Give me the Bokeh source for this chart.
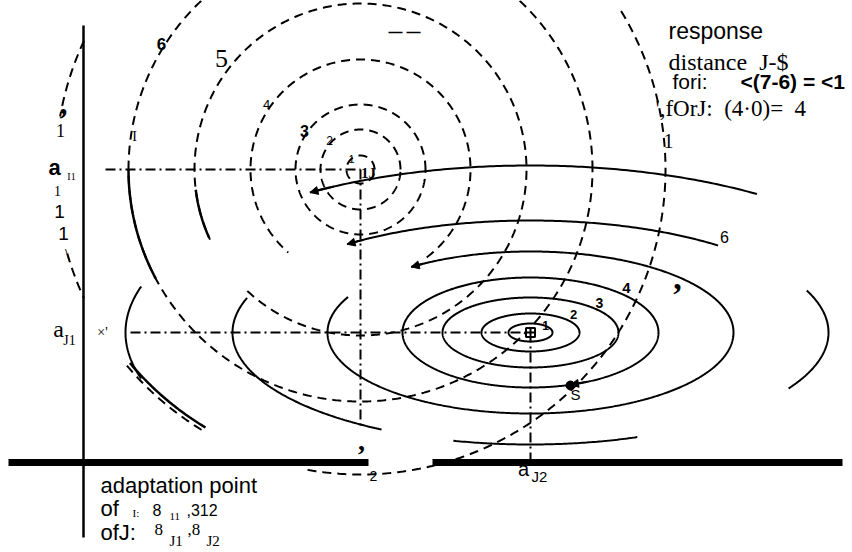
import numpy as np
from bokeh.plotting import figure
from bokeh.models import Range1d, Arrow, NormalHead
from bokeh.embed import file_html
from bokeh.resources import INLINE
from bokeh.core.properties import value

NB = "\u00a0"

# ---------------- data (response space, drawing units) ----------------
# adaptation points
aI2, aI1 = 360, 169          # stimulus I
aJ2, aJ1 = 530, 332          # stimulus J
S_point = (570, 385)         # stimulus S

# response-distance contours of I (dashed circles)
I_levels = [1, 2, 3, 4, 5, 6, 7]
I_radius = [14, 40, 65, 110, 166, 232, 305]
# visible parts of each contour (degrees)
I_arcs = [[(0, 360)], [(0, 360)], [(0, 360)], [(-53, 229)],
          [(227, 565)], [(0, 360)], [(-100, 32), (155, 170), (196, 205), (220, 239)]]
I_solid_parts = {6: [(180, 208)], 5: [(187, 204)]}

# response-distance contours of J (solid ellipses)
J_levels = [1, 2, 3, 4, 5, 6, 7]
J_rx = [22, 49, 88, 128, 203, 298, 405]
J_ry = [9, 19, 35, 55, 81, 112, 167]
J_arcs = [[(0, 360)], [(0, 360)], [(0, 360)], [(0, 360)], [(154, 486)],
          [(51, 128), (162, 240), (255, 291), (-30, 22)], [(56, 123), (164, 196)]]
J_arrow_at = {5: 126, 6: 128, 7: 123}

# axis extents
axis_x, axis_top, axis_bottom = 83, 25, 537
base_y, base_left, base_right = 462, 8, 842
base_gap = (368, 432)

# texts: (x, y, text, size, font, style, align)
texts = [
    (668, 30, "response", "23px", "Liberation Sans", "normal", "left"),
    (668, 61, "distance" + NB * 2 + "J-$", "24px", "Liberation Serif", "normal", "left"),
    (672, 81, "fori:", "21px", "Liberation Sans", "normal", "left"),
    (740, 81, "<(7-6) = <1", "21px", "Liberation Sans", "bold", "left"),
    (655, 108, "',fOrJ:" + NB * 2 + "(4\u00b70)=" + NB * 2 + "4", "23px", "Liberation Serif", "normal", "left"),
    (668, 140, "1", "20px", "Liberation Serif", "normal", "center"),
    (63, 103, ",", "32px", "Liberation Serif", "bold", "center"),
    (60, 130, "1", "18px", "Liberation Serif", "normal", "center"),
    (54, 167, "a", "22px", "Liberation Sans", "bold", "center"),
    (71, 176, "I1", "10px", "Liberation Serif", "normal", "center"),
    (57, 190, "1", "14px", "Liberation Serif", "normal", "center"),
    (59, 211, "1", "19px", "Liberation Sans", "normal", "center"),
    (63, 233, "1", "19px", "Liberation Sans", "normal", "center"),
    (67, 255, "\\", "18px", "Liberation Serif", "normal", "center"),
    (58, 328, "a", "24px", "Liberation Serif", "normal", "center"),
    (69, 340, "J1", "14px", "Liberation Serif", "normal", "center"),
    (102, 332, "\u00d7'", "14px", "Liberation Serif", "normal", "center"),
    (134, 136, "I", "14px", "Liberation Serif", "normal", "center"),
    (161, 43, "6", "17px", "Liberation Sans", "bold", "center"),
    (221, 58, "5", "26px", "Liberation Serif", "normal", "center"),
    (266, 104, "4", "13px", "Liberation Sans", "normal", "center"),
    (304, 130, "3", "16px", "Liberation Sans", "bold", "center"),
    (329, 140, "2", "12px", "Liberation Sans", "normal", "center"),
    (351, 158, "1", "11px", "Liberation Sans", "normal", "center"),
    (368, 172, "1J", "15px", "Liberation Serif", "bold", "center"),
    (404, 31, "\u2014 \u2014", "14px", "Liberation Sans", "bold", "center"),
    (724, 236, "6", "16px", "Liberation Sans", "normal", "center"),
    (677, 277, ",", "34px", "Liberation Serif", "bold", "center"),
    (626, 287, "4", "15px", "Liberation Sans", "bold", "center"),
    (599, 302, "3", "14px", "Liberation Sans", "bold", "center"),
    (573, 314, "2", "13px", "Liberation Sans", "bold", "center"),
    (545, 325, "1", "12px", "Liberation Sans", "bold", "center"),
    (575, 394, "S", "15px", "Liberation Sans", "normal", "center"),
    (361, 440, ",", "28px", "Liberation Serif", "bold", "center"),
    (373, 475, "2", "14px", "Liberation Sans", "normal", "center"),
    (523, 468, "a", "20px", "Liberation Sans", "normal", "center"),
    (539, 476, "J2", "15px", "Liberation Sans", "normal", "center"),
    (100, 485, "adaptation point", "22px", "Liberation Sans", "normal", "left"),
    (100, 508, "of", "22px", "Liberation Sans", "normal", "left"),
    (132, 512, "I:", "11px", "Liberation Serif", "normal", "left"),
    (152, 509, "8", "16px", "Liberation Sans", "normal", "left"),
    (169, 516, "11", "11px", "Liberation Serif", "normal", "left"),
    (186, 509, ",312", "16px", "Liberation Sans", "normal", "left"),
    (100, 532, "ofJ:", "22px", "Liberation Sans", "normal", "left"),
    (154, 529, "8", "17px", "Liberation Serif", "normal", "left"),
    (169, 540, "J1", "15px", "Liberation Serif", "normal", "left"),
    (187, 529, ",8", "17px", "Liberation Serif", "normal", "left"),
    (206, 540, "J2", "15px", "Liberation Serif", "normal", "left"),
]

# ---------------- figure ----------------
W, H = 850, 550
p = figure(width=W, height=H, output_backend="svg", toolbar_location=None,
           x_range=Range1d(0, W), y_range=Range1d(H, 0),
           x_axis_type=None, y_axis_type=None, min_border=0)
p.outline_line_color = None
p.background_fill_color = "white"


def ell(cx, cy, rx, ry, t0, t1):
    n = max(int(abs(t1 - t0) * 2), 20)
    t = np.radians(np.linspace(t0, t1, n))
    return list(cx + rx * np.cos(t)), list(cy - ry * np.sin(t))


# I contours (dashed)
xs, ys = [], []
for r, arcs in zip(I_radius, I_arcs):
    for a0, a1 in arcs:
        x, y = ell(aI2, aI1, r, r, a0, a1)
        xs.append(x); ys.append(y)
p.multi_line(xs, ys, line_color="black", line_width=2, line_dash="9 6")
xs, ys = [], []
for lev, arcs in I_solid_parts.items():
    r = I_radius[I_levels.index(lev)]
    for a0, a1 in arcs:
        x, y = ell(aI2, aI1, r, r, a0, a1)
        xs.append(x); ys.append(y)
# thin companion line of the outer contour (lower left)
x, y = ell(aI2, aI1, I_radius[-1] - 4, I_radius[-1] - 4, 220, 239)
xs.append(x); ys.append(y)
p.multi_line(xs, ys, line_color="black", line_width=2.5)

# J contours (solid)
xs, ys = [], []
for rx, ry, arcs in zip(J_rx, J_ry, J_arcs):
    for a0, a1 in arcs:
        x, y = ell(aJ2, aJ1, rx, ry, a0, a1)
        xs.append(x); ys.append(y)
p.multi_line(xs, ys, line_color="black", line_width=2)

# arrow heads at the ends of J contours
for lev, t in J_arrow_at.items():
    i = J_levels.index(lev)
    x0, y0 = ell(aJ2, aJ1, J_rx[i], J_ry[i], t - 4, t)
    p.add_layout(Arrow(end=NormalHead(size=8, fill_color="black", line_color="black"),
                       x_start=x0[0], y_start=y0[0], x_end=x0[-1], y_end=y0[-1],
                       line_width=2, line_color="black"))
# arrow into S along J contour 4
i4 = J_levels.index(4)
ts = -np.degrees(np.arccos((S_point[0] - aJ2) / J_rx[i4]))
x0, y0 = ell(aJ2, aJ1, J_rx[i4], J_ry[i4], ts + 8, ts)
p.add_layout(Arrow(end=NormalHead(size=8, fill_color="black", line_color="black"),
                   x_start=x0[0], y_start=y0[0], x_end=x0[-1], y_end=y0[-1],
                   line_width=2, line_color="black"))

# dash-dot reference lines through adaptation points
dd = "10 4 2 4"
p.line([105, aI2], [aI1, aI1], line_color="black", line_width=2, line_dash=dd)
p.line([aI2, aI2], [aI1, 427], line_color="black", line_width=2, line_dash=dd)
p.line([130, aJ2], [aJ1, aJ1], line_color="black", line_width=2, line_dash=dd)
p.line([aJ2, aJ2], [aJ1, base_y], line_color="black", line_width=2, line_dash=dd)

# centre mark of J and stimulus S
p.scatter([aJ2], [aJ1], marker="square_cross", size=9, fill_color="white",
          line_color="black", line_width=2)
p.scatter([S_point[0]], [S_point[1]], marker="circle", size=9, color="black")

# axes
p.line([axis_x, axis_x], [axis_top, axis_bottom], line_color="black", line_width=2.5)
p.segment(x0=[base_left, base_gap[1]], y0=[base_y, base_y],
          x1=[base_gap[0], base_right], y1=[base_y, base_y],
          line_color="black", line_width=7, line_cap="butt")

# texts
for (x, y, t, size, font, style, align) in texts:
    p.text(x=[x], y=[y], text=[t], text_font=value(font), text_font_size=size,
           text_font_style=style, text_align=align, text_baseline="middle",
           text_color="black")

open("out.html", "w").write(file_html(p, INLINE))
